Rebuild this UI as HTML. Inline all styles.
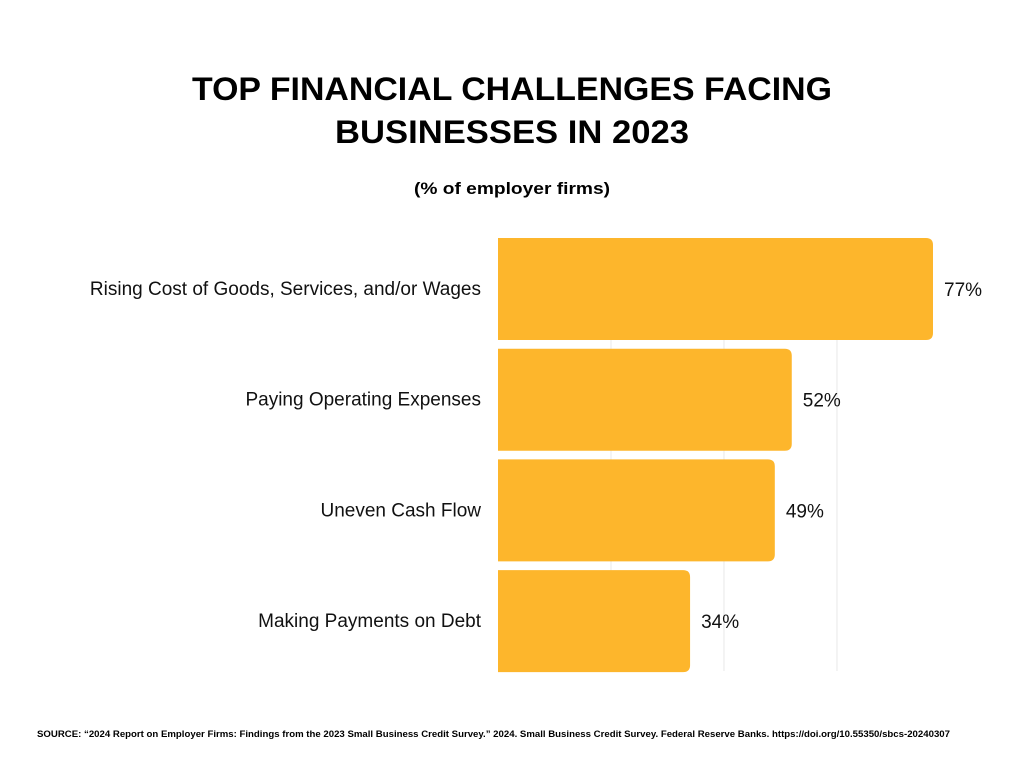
<!DOCTYPE html>
<html><head><meta charset="utf-8"><style>
body{margin:0;background:#fff;}
svg{display:block;font-family:"Liberation Sans",sans-serif;}
</style></head><body>
<svg id="chart" width="1024" height="768" viewBox="0 0 1024 768">
<rect width="1024" height="768" fill="#fff"/>
<text x="512" y="100" text-anchor="middle" font-size="32" font-weight="bold" textLength="640" lengthAdjust="spacingAndGlyphs" fill="#000">TOP FINANCIAL CHALLENGES FACING</text>
<text x="512" y="143" text-anchor="middle" font-size="32" font-weight="bold" textLength="354" lengthAdjust="spacingAndGlyphs" fill="#000">BUSINESSES IN 2023</text>
<text x="512" y="194" text-anchor="middle" font-size="17" font-weight="bold" textLength="196" lengthAdjust="spacingAndGlyphs" fill="#000">(% of employer firms)</text>
<g id="grid"></g>
<g id="bars"></g>
<text x="37" y="737" font-size="9" font-weight="bold" textLength="913" lengthAdjust="spacingAndGlyphs" fill="#000">SOURCE: “2024 Report on Employer Firms: Findings from the 2023 Small Business Credit Survey.” 2024. Small Business Credit Survey. Federal Reserve Banks. https://doi.org/10.55350/sbcs-20240307</text>
</svg>
<script>
const categories=["Rising Cost of Goods, Services, and/or Wages","Paying Operating Expenses","Uneven Cash Flow","Making Payments on Debt"];
const values=[77,52,49,34];
const valueLabels=["77%","52%","49%","34%"];
const gridTicks=[20,40,60];
const NS="http://www.w3.org/2000/svg";
const x0=498,pxPer=435/77,top0=238,step=110.7,barH=102,r=7;
const xs=v=>x0+v*pxPer;
const grid=document.getElementById('grid'),bars=document.getElementById('bars');
gridTicks.forEach(t=>{
 const l=document.createElementNS(NS,'line');
 
 
 l.setAttribute('x1',xs(t));l.setAttribute('x2',xs(t));
 l.setAttribute('y1',top0);l.setAttribute('y2',671);
 l.setAttribute('stroke','#e8e8e8');l.setAttribute('stroke-width','1');
 grid.appendChild(l);
});
categories.forEach((c,i)=>{
 const y=top0+i*step,x1=xs(values[i]),w=x1-x0;
 const p=document.createElementNS(NS,'path');
 
 
 p.setAttribute('d',`M${x0},${y}H${x1-r}Q${x1},${y} ${x1},${y+r}V${y+barH-r}Q${x1},${y+barH} ${x1-r},${y+barH}H${x0}Z`);
 p.setAttribute('fill','#FDB62C');
 bars.appendChild(p);
 const lab=document.createElementNS(NS,'text');
 
 
 lab.setAttribute('x',481);lab.setAttribute('y',y+barH/2+6);
 lab.setAttribute('text-anchor','end');lab.setAttribute('font-size','19');lab.setAttribute('fill','#111');
 lab.textContent=c;bars.appendChild(lab);
 const v=document.createElementNS(NS,'text');
 
 
 v.setAttribute('x',x1+11);v.setAttribute('y',y+barH/2+7);
 v.setAttribute('font-size','19');v.setAttribute('fill','#111');
 v.textContent=valueLabels[i];bars.appendChild(v);
});
</script>
</body></html>
